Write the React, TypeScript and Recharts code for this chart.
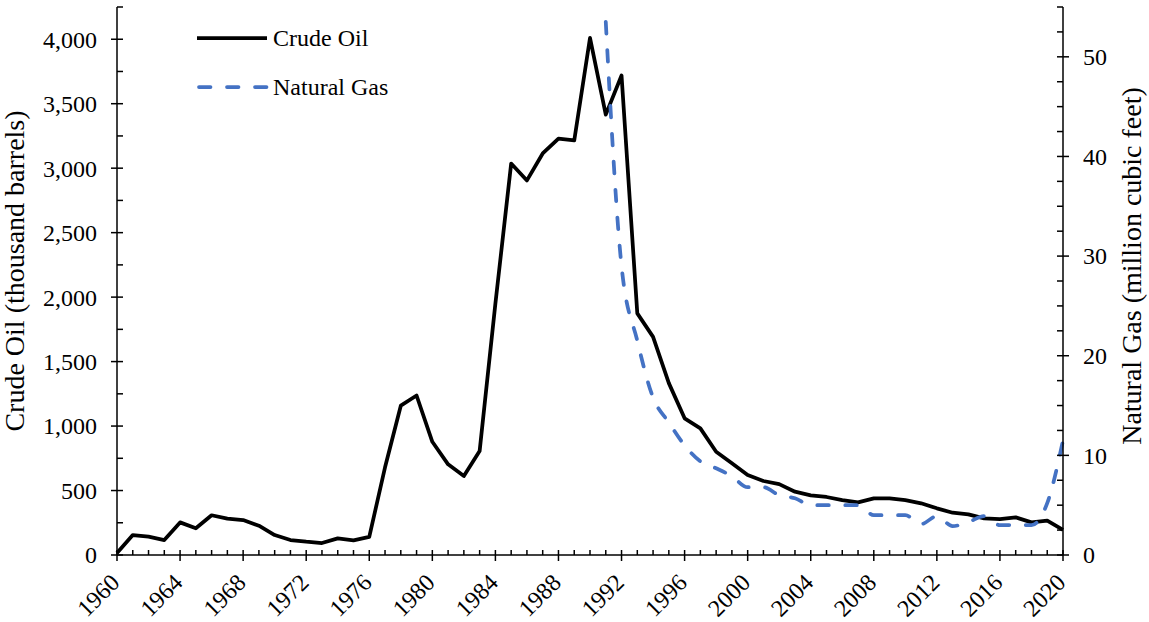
import { LineChart, Line, XAxis, YAxis, Label } from "recharts";

const years = Array.from({ length: 61 }, (_, i) => 1960 + i);

// thousand barrels, 1960–2020
const crudeOil = [
  15, 155, 142, 116, 253, 207, 308, 282, 271, 227,
  155, 116, 103, 93, 129, 114, 140, 680, 1158, 1237,
  878, 703, 612, 806, 1950, 3036, 2905, 3114, 3230, 3215,
  4010, 3415, 3719, 1874, 1692, 1333, 1060, 982, 801, 711,
  620, 574, 550, 491, 463, 450, 426, 408, 439, 439,
  426, 401, 362, 328, 315, 284, 279, 292, 253, 266,
  194,
];

// million cubic feet, reported from 1991
const gasStartYear = 1991;
const naturalGas = [
  53.5, 29, 21.5, 15.8, 13.3, 11, 9.4, 8.7, 7.9, 6.8,
  6.8, 6.0, 5.7, 5.0, 5.0, 5.0, 5.0, 4.0, 4.0, 4.0,
  3.1, 3.9, 2.9, 3.3, 3.9, 3.0, 3.0, 3.0, 5.2, 11.5,
];

const oilTicks = Array.from({ length: 18 }, (_, i) => i * 250);
const gasTicks = Array.from({ length: 23 }, (_, i) => i * 2.5);

const data = years.map((year, i) => ({
  year,
  oil: crudeOil[i],
  gas: year >= gasStartYear ? naturalGas[year - gasStartYear] : null,
}));

const FONT = '"Liberation Serif", "Times New Roman", serif';
const FS = 24;
const TITLE_FS = 28;
const BLUE = "#4472C4";

function YearTick({ x, y, payload }: any) {
  const major = (payload.value - 1960) % 4 === 0;
  return (
    <g>
      <line x1={x} x2={x} y1={y - 5} y2={major ? y + 6 : y} stroke="#000" strokeWidth={1.5} />
      {major && (
        <text
          x={0}
          y={0}
          textAnchor="end"
          fontFamily={FONT}
          fontSize={FS}
          fill="#000"
          transform={`translate(${x + 4},${y + 29}) rotate(-45)`}
        >
          {payload.value}
        </text>
      )}
    </g>
  );
}

function OilTick({ x, y, payload }: any) {
  const major = payload.value % 500 === 0;
  return (
    <g>
      <line x1={major ? x - 6 : x} x2={x + 6} y1={y} y2={y} stroke="#000" strokeWidth={1.5} />
      {major && (
        <text x={x - 20} y={y} dy="0.35em" textAnchor="end" fontFamily={FONT} fontSize={FS} fill="#000">
          {payload.value.toLocaleString("en-US")}
        </text>
      )}
    </g>
  );
}

function GasTick({ x, y, payload }: any) {
  const major = payload.value % 10 === 0;
  return (
    <g>
      <line x1={x - 6} x2={major ? x + 6 : x} y1={y} y2={y} stroke="#000" strokeWidth={1.5} />
      {major && (
        <text x={x + 20} y={y} dy="0.35em" textAnchor="start" fontFamily={FONT} fontSize={FS} fill="#000">
          {payload.value}
        </text>
      )}
    </g>
  );
}

// legend drawn as an overlay so it doesn't eat into the plot area
function LegendBox() {
  return (
    <svg width={240} height={110} style={{ position: "absolute", left: 190, top: 0 }}>
      <line x1={7} x2={77} y1={38} y2={38} stroke="#000" strokeWidth={3.75} />
      <text x={83} y={38} dy="0.35em" fontFamily={FONT} fontSize={FS} fill="#000">
        Crude Oil
      </text>
      <line
        x1={9}
        x2={77}
        y1={87}
        y2={87}
        stroke={BLUE}
        strokeWidth={3.75}
        strokeDasharray="11.5 16.5"
        strokeLinecap="round"
      />
      <text x={83} y={87} dy="0.35em" fontFamily={FONT} fontSize={FS} fill="#000">
        Natural Gas
      </text>
    </svg>
  );
}

export default function App() {
  return (
    <div style={{ position: "absolute", left: 0, top: 0, width: 1149, height: 622, background: "#fff" }}>
      <LineChart width={1149} height={622} data={data} margin={{ top: 7, right: 0, bottom: 0, left: 0 }}>
        <XAxis
          dataKey="year"
          type="number"
          domain={[1960, 2020]}
          ticks={years}
          interval={0}
          height={67}
          tickSize={0}
          tickMargin={0}
          tickLine={false}
          tick={<YearTick />}
          axisLine={{ stroke: "#000", strokeWidth: 1.5 }}
        />
        <YAxis
          yAxisId="oil"
          orientation="left"
          width={117}
          domain={[0, 4250]}
          ticks={oilTicks}
          interval={0}
          tickSize={0}
          tickMargin={0}
          tickLine={false}
          tick={<OilTick />}
          axisLine={{ stroke: "#000", strokeWidth: 1.5 }}
        >
          <Label
            content={() => (
              <text
                x={0}
                y={0}
                textAnchor="middle"
                fontFamily={FONT}
                fontSize={TITLE_FS}
                fill="#000"
                transform="translate(24,271) rotate(-90)"
              >
                Crude Oil (thousand barrels)
              </text>
            )}
          />
        </YAxis>
        <YAxis
          yAxisId="gas"
          orientation="right"
          width={86}
          domain={[0, 55]}
          ticks={gasTicks}
          interval={0}
          tickSize={0}
          tickMargin={0}
          tickLine={false}
          tick={<GasTick />}
          axisLine={{ stroke: "#000", strokeWidth: 1.5 }}
        >
          <Label
            content={() => (
              <text
                x={0}
                y={0}
                textAnchor="middle"
                fontFamily={FONT}
                fontSize={TITLE_FS}
                fill="#000"
                transform="translate(1141,266) rotate(-90)"
              >
                Natural Gas (million cubic feet)
              </text>
            )}
          />
        </YAxis>
        <Line
          yAxisId="oil"
          dataKey="oil"
          type="linear"
          stroke="#000"
          strokeWidth={3.75}
          strokeLinejoin="round"
          dot={false}
          activeDot={false}
          isAnimationActive={false}
        />
        <Line
          yAxisId="gas"
          dataKey="gas"
          type="monotone"
          stroke={BLUE}
          strokeWidth={3.75}
          strokeDasharray="11.5 16.5"
          strokeLinecap="round"
          dot={false}
          activeDot={false}
          connectNulls={false}
          isAnimationActive={false}
        />
      </LineChart>
      <LegendBox />
    </div>
  );
}
